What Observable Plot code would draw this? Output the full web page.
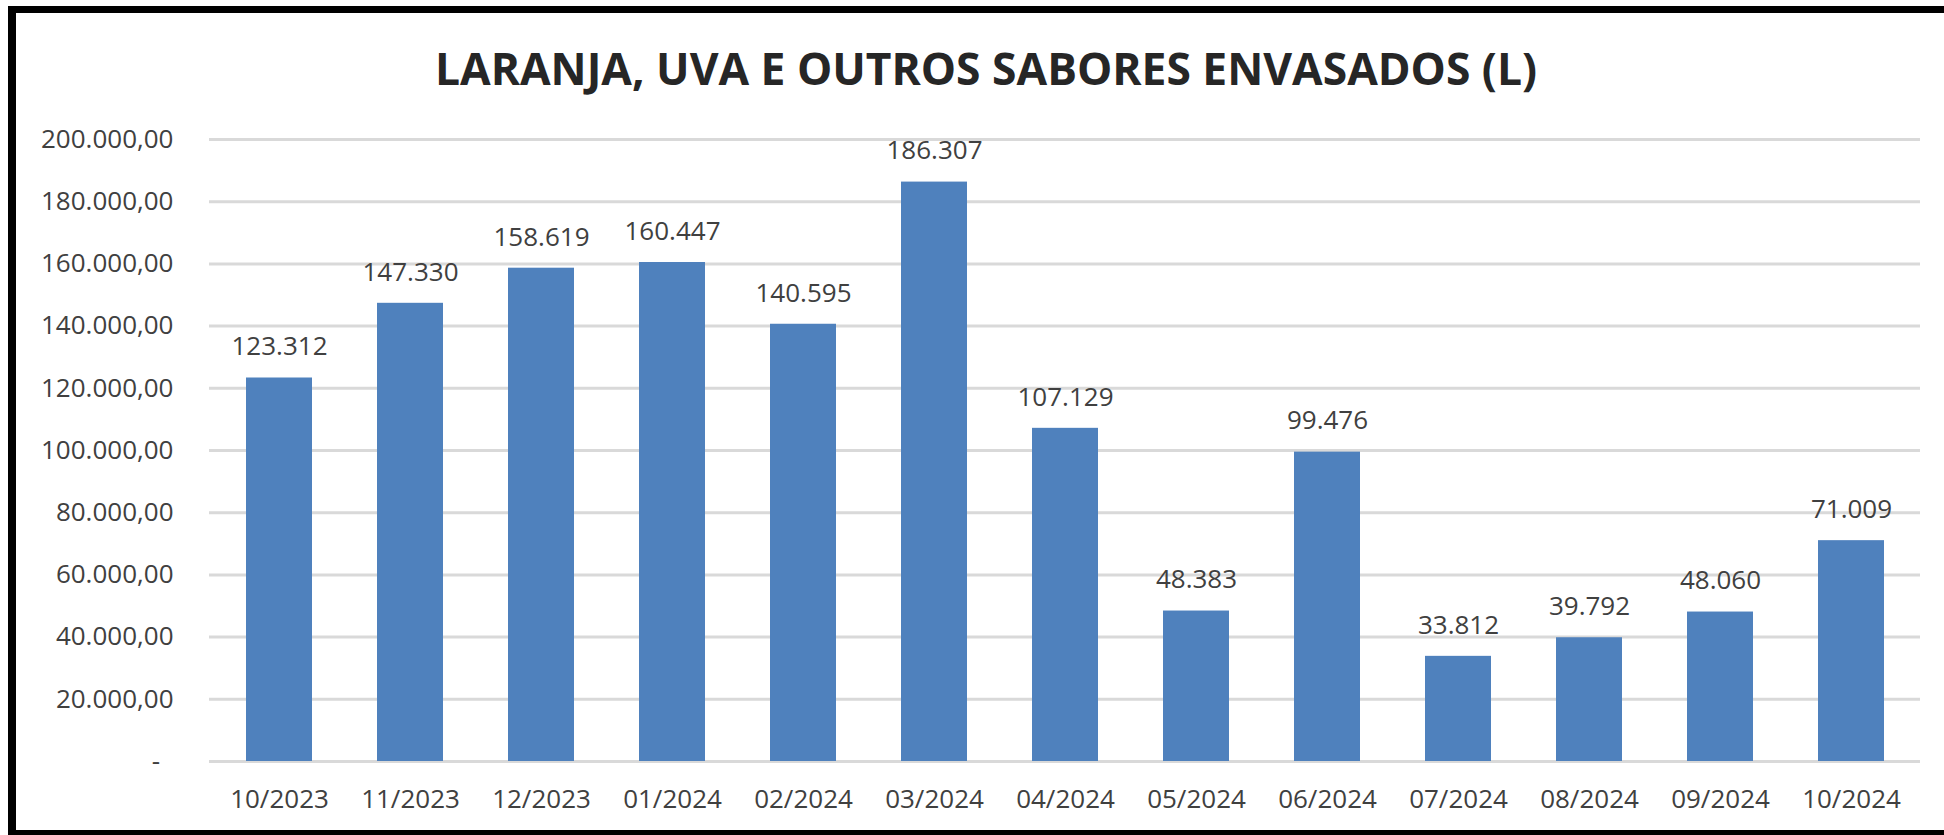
<!DOCTYPE html>
<html>
<head>
<meta charset="utf-8">
<script src="https://cdn.jsdelivr.net/npm/d3@7"></script>
<script src="https://cdn.jsdelivr.net/npm/@observablehq/plot@0.6"></script>
<style>
  html, body { margin: 0; padding: 0; background: #fff; overflow: hidden; }
  #wrap { position: relative; width: 1944px; height: 835px; overflow: hidden; background: #fff; }
  #frame { position: absolute; left: 8px; top: 6px; width: 1960px; height: 832px; box-sizing: border-box;
           border-left: 8px solid #000; border-top: 7px solid #000; border-bottom: 8px solid #000; }
  #chart { position: absolute; left: 0; top: 0; }
</style>
</head>
<body>
<div id="wrap">
  <div id="chart"></div>
  <div id="frame"></div>
</div>
<script>
const title = "LARANJA, UVA E OUTROS SABORES ENVASADOS (L)";
const months = ["10/2023","11/2023","12/2023","01/2024","02/2024","03/2024","04/2024","05/2024","06/2024","07/2024","08/2024","09/2024","10/2024"];
const litres = [123312, 147330, 158619, 160447, 140595, 186307, 107129, 48383, 99476, 33812, 39792, 48060, 71009];
const yTicks = [0, 20000, 40000, 60000, 80000, 100000, 120000, 140000, 160000, 180000, 200000];

const locale = d3.formatLocale({decimal: ",", thousands: ".", grouping: [3], currency: ["R$", ""]});
const fmtAxis = locale.format(",.2f");
const fmtLabel = locale.format(",.0f");
const data = months.map((m, i) => ({month: m, value: litres[i]}));

const plot = Plot.plot({
  width: 1944,
  height: 835,
  marginLeft: 209,
  marginRight: 24,
  marginTop: 139,
  marginBottom: 74,
  x: {domain: months, paddingInner: 0.5, paddingOuter: 0.25, label: null},
  y: {domain: [0, 200000], label: null},
  style: {fontFamily: "'Open Sans', sans-serif", fontSize: "26px", color: "#404040", background: "transparent", overflow: "visible"},
  marks: [
    Plot.gridY(yTicks, {stroke: "#d9d9d9", strokeOpacity: 1, strokeWidth: 3}),
    Plot.barY(data, {x: "month", y: "value", fill: "#4f81bd"}),
    Plot.axisY(yTicks, {tickSize: 0, tickPadding: 36, fontSize: 26, fill: "#404040",
      tickFormat: d => d === 0 ? "-\u00a0\u00a0" : fmtAxis(d), label: null}),
    Plot.axisX({tickSize: 0, tickPadding: 28, fontSize: 26, fill: "#404040", label: null}),
    Plot.text(data, {x: "month", y: "value", text: d => fmtLabel(d.value), dy: -31,
      fontSize: 26, fill: "#404040", lineAnchor: "middle"})
  ]
});

d3.select(plot).append("text")
  .attr("x", 986)
  .attr("y", 85)
  .attr("text-anchor", "middle")
  .attr("font-family", "'Open Sans', sans-serif")
  .attr("font-weight", "bold")
  .attr("font-size", 44)
  .attr("fill", "#262626")
  .attr("textLength", 1102)
  .attr("lengthAdjust", "spacingAndGlyphs")
  .text(title);

document.getElementById("chart").appendChild(plot);
</script>
</body>
</html>
